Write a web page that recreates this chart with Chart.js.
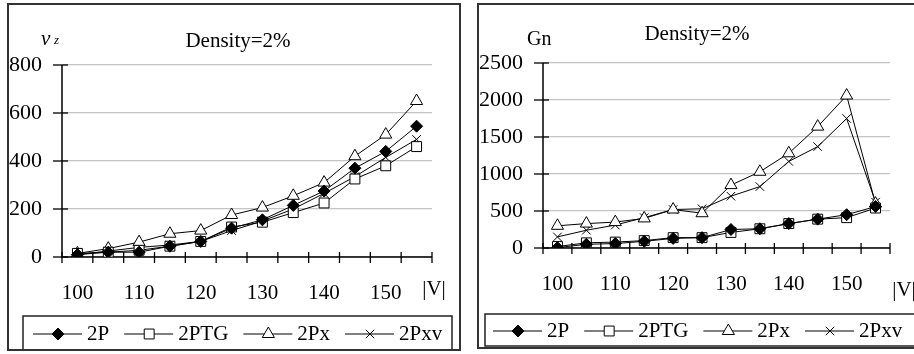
<!DOCTYPE html>
<html>
<head>
<meta charset="utf-8">
<script src="https://cdn.jsdelivr.net/npm/chart.js@4/dist/chart.umd.min.js"></script>
<style>
  body { margin: 0; background: #fff; width: 914px; height: 354px; overflow: hidden; position: relative; }
  .panel { position: absolute; border: 2px solid #333; background: #fff; }
  #leftPanel { left: 7px; top: 3px; width: 450px; height: 344px; }
  #rightPanel { left: 477px; top: 3px; width: 436px; height: 342px; }
  canvas { display: block; }
</style>
</head>
<body>
<div class="panel" id="leftPanel"><canvas id="vzChart" width="450" height="344"></canvas></div>
<div class="panel" id="rightPanel"><canvas id="gnChart" width="436" height="342"></canvas></div>
<script>
// |V| values on the x axis
const voltages = ['100', '105', '110', '115', '120', '125', '130', '135', '140', '145', '150', '155'];
const seriesNames = ['2P', '2PTG', '2Px', '2Pxv'];

// left chart: nu_z
const vz2P    = [10, 20, 20, 45, 65, 120, 155, 215, 275, 370, 440, 545];
const vz2PTG  = [15, 20, 28, 45, 65, 125, 145, 185, 225, 325, 380, 460];
const vz2Px   = [15, 35, 62, 97, 110, 175, 206, 255, 310, 420, 510, 650];
const vz2Pxv  = [10, 25, 40, 50, 65, 110, 150, 200, 265, 335, 415, 490];

// right chart: Gn
const gn2P    = [5, 50, 60, 90, 130, 140, 250, 260, 330, 390, 450, 560];
const gn2PTG  = [20, 70, 80, 100, 140, 140, 210, 260, 330, 390, 410, 540];
const gn2Px   = [300, 330, 350, 400, 520, 470, 850, 1030, 1280, 1640, 2060, 600];
const gn2Pxv  = [150, 240, 310, 410, 520, 530, 700, 830, 1170, 1370, 1750, 620];

Chart.defaults.font.family = "'Liberation Serif', 'DejaVu Serif', serif";
Chart.defaults.font.size = 21;
Chart.defaults.color = '#000';

const markerStyles = [
  { pointStyle: 'rectRot', radius: 6, fill: '#000' },
  { pointStyle: 'rect', radius: 7, fill: '#fff' },
  { pointStyle: 'triangle', radius: 7, fill: '#fff' },
  { pointStyle: 'crossRot', radius: 6, fill: '#fff' }
];

function makeDatasets(arrays) {
  return arrays.map((values, i) => ({
    label: seriesNames[i],
    data: values,
    borderColor: '#000',
    borderWidth: 1,
    pointStyle: markerStyles[i].pointStyle,
    pointRadius: markerStyles[i].radius,
    pointBackgroundColor: markerStyles[i].fill,
    pointBorderColor: '#000',
    pointBorderWidth: 1,
    fill: false,
    tension: 0
  }));
}

function drawMarker(ctx, style, x, y) {
  ctx.save();
  ctx.fillStyle = style.fill;
  ctx.strokeStyle = '#000';
  ctx.lineWidth = 1;
  Chart.helpers.drawPoint(ctx, { pointStyle: style.pointStyle, radius: style.radius, rotation: 0, borderWidth: 1 }, x, y);
  ctx.restore();
}

// axes, ticks, titles and the boxed legend
function decorPlugin(cfg) {
  return {
    id: 'decor',
    beforeDatasetsDraw(chart) {
      const ctx = chart.ctx;
      const xs = chart.scales.x, ys = chart.scales.y;
      const area = chart.chartArea;
      ctx.save();
      ctx.strokeStyle = '#000';
      ctx.lineWidth = 1.5;
      ctx.beginPath();
      ctx.moveTo(area.left, area.top);
      ctx.lineTo(area.left, area.bottom);
      ctx.lineTo(area.right, area.bottom);
      ctx.stroke();
      ctx.lineWidth = 1.3;
      ys.ticks.forEach(t => {
        const py = ys.getPixelForValue(t.value);
        ctx.beginPath();
        ctx.moveTo(area.left - 9, py);
        ctx.lineTo(area.left + 6, py);
        ctx.stroke();
      });
      const half = (xs.getPixelForValue(1) - xs.getPixelForValue(0)) / 2;
      for (let i = 0; i <= voltages.length; i++) {
        const px = xs.getPixelForValue(i) - half;
        ctx.beginPath();
        ctx.moveTo(px, area.bottom - 5);
        ctx.lineTo(px, area.bottom + 6);
        ctx.stroke();
      }
      ctx.restore();
    },
    afterDraw(chart) {
      const ctx = chart.ctx;
      const area = chart.chartArea;
      ctx.save();
      ctx.fillStyle = '#000';
      ctx.textBaseline = 'middle';
      ctx.font = "21px 'Liberation Serif'";
      ctx.textAlign = 'center';
      ctx.fillText('Density=2%', cfg.titleX, cfg.titleY);
      ctx.fillText('|V|', area.right + cfg.unitDx, cfg.unitY);
      ctx.textAlign = 'left';
      if (cfg.yTitle === 'nu') {
        ctx.font = "italic 21px 'Liberation Serif'";
        ctx.fillText('\u03bd', cfg.yTitleX, cfg.yTitleY);
        ctx.font = "italic 13px 'Liberation Serif'";
        ctx.fillText('z', cfg.yTitleX + 13, cfg.yTitleY + 2);
      } else {
        ctx.font = "20px 'Liberation Serif'";
        ctx.fillText(cfg.yTitle, cfg.yTitleX, cfg.yTitleY);
      }
      // legend box
      ctx.strokeStyle = '#222';
      ctx.lineWidth = 1.5;
      ctx.strokeRect(cfg.legend.x, cfg.legend.y, cfg.legend.w, cfg.legend.h);
      ctx.font = "21px 'Liberation Serif'";
      let lx = cfg.legend.startX;
      const ly = cfg.legend.y + cfg.legend.h / 2 + 1;
      seriesNames.forEach((name, i) => {
        ctx.strokeStyle = '#000';
        ctx.lineWidth = 1;
        ctx.beginPath();
        ctx.moveTo(lx, ly);
        ctx.lineTo(lx + 49, ly);
        ctx.stroke();
        drawMarker(ctx, markerStyles[i], lx + 25, ly);
        ctx.fillStyle = '#000';
        ctx.fillText(name, lx + 54, ly);
        lx += 54 + ctx.measureText(name).width + 15;
      });
      ctx.restore();
    }
  };
}

function buildChart(id, arrays, yMax, yStep, sizes, cfg) {
  const ctx = document.getElementById(id).getContext('2d');
  return new Chart(ctx, {
    type: 'line',
    data: { labels: voltages, datasets: makeDatasets(arrays) },
    options: {
      responsive: false,
      animation: false,
      devicePixelRatio: 1,
      layout: { padding: { left: 0, right: sizes.right, top: sizes.top, bottom: 0 } },
      plugins: { legend: { display: false }, tooltip: { enabled: false }, title: { display: false } },
      scales: {
        x: {
          type: 'category',
          offset: true,
          grid: { display: false, drawTicks: false },
          border: { display: false },
          ticks: {
            autoSkip: false,
            maxRotation: 0,
            padding: sizes.xPad,
            callback: (v, i) => (i % 2 === 0 ? voltages[i] : '')
          },
          afterFit: s => { s.height = sizes.xHeight; }
        },
        y: {
          min: 0,
          max: yMax,
          grid: { color: '#c4c4c4', lineWidth: 1.2, drawTicks: false },
          border: { display: false },
          ticks: { stepSize: yStep, padding: 20, font: { size: 22 }, callback: v => String(v) },
          afterFit: s => { s.width = sizes.yWidth; }
        }
      }
    },
    plugins: [decorPlugin(cfg)]
  });
}

buildChart('vzChart', [vz2P, vz2PTG, vz2Px, vz2Pxv], 800, 200,
  { right: 27, top: 60, xHeight: 92, yWidth: 53, xPad: 24 },
  { titleX: 229, titleY: 36, unitDx: 2, unitY: 284, yTitle: 'nu', yTitleX: 32, yTitleY: 34,
    legend: { x: 14, y: 311, w: 429, h: 34, startX: 24 } });

buildChart('gnChart', [gn2P, gn2PTG, gn2Px, gn2Pxv], 2500, 500,
  { right: 25, top: 58, xHeight: 99, yWidth: 64, xPad: 24 },
  { titleX: 218, titleY: 29, unitDx: 14, unitY: 285, yTitle: 'Gn', yTitleX: 48, yTitleY: 35,
    legend: { x: 6, y: 309, w: 432, h: 32, startX: 14 } });
</script>
</body>
</html>
